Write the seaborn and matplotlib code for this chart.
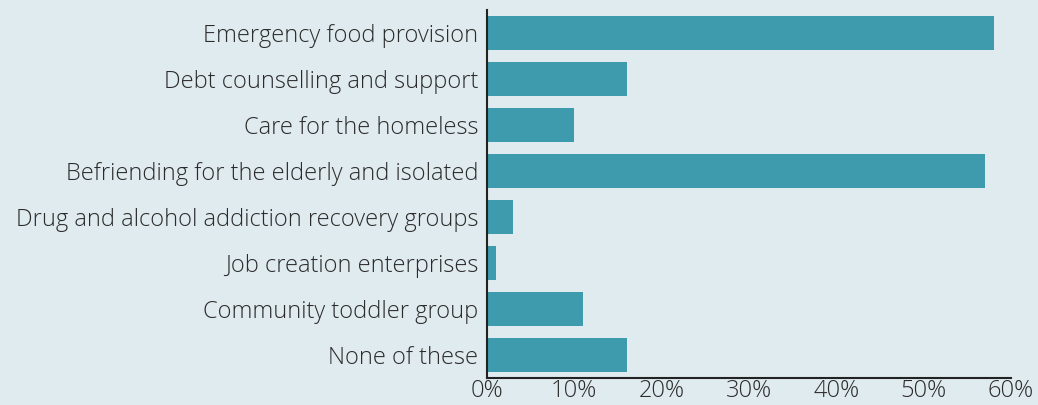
import matplotlib
matplotlib.use('Agg')
import matplotlib.pyplot as plt
import seaborn as sns
import pandas as pd
from matplotlib.ticker import PercentFormatter

# data
categories = ['Emergency food provision', 'Debt counselling and support', 'Care for the homeless',
              'Befriending for the elderly and isolated', 'Drug and alcohol addiction recovery groups',
              'Job creation enterprises', 'Community toddler group', 'None of these']
values = [58, 16, 10, 57, 3, 1, 11, 16]

BG = '#e0ebef'
BAR = '#3e9aad'
TXT = '#2b2b2b'

sns.set_style('white')
plt.rcParams['font.family'] = ['Open Sans', 'DejaVu Sans']

df = pd.DataFrame({'category': categories, 'value': values})

fig = plt.figure(figsize=(10.38, 4.05), dpi=100, facecolor=BG)
ax = fig.add_axes([0.469, 0.0667, 0.505, 0.9083])
ax.set_facecolor(BG)
sns.barplot(data=df, x='value', y='category', color=BAR, saturation=1, width=0.74,
            linewidth=0, ax=ax)

ax.set_xlim(0, 60)
ax.set_ylim(7.5, -0.5)
ax.set_xticks(range(0, 61, 10))
ax.xaxis.set_major_formatter(PercentFormatter(decimals=0))
ax.set_xlabel('')
ax.set_ylabel('')
for s in ['top', 'right']:
    ax.spines[s].set_visible(False)
for s in ['left', 'bottom']:
    ax.spines[s].set_color('#222222')
    ax.spines[s].set_linewidth(1.5)
ax.tick_params(axis='x', direction='in', length=8, width=1.5, color='#222222',
               labelsize=17, labelcolor=TXT, pad=1)
ax.tick_params(axis='y', length=0, labelsize=17, labelcolor=TXT, pad=6)
for lbl in ax.get_xticklabels() + ax.get_yticklabels():
    lbl.set_fontweight('light')

fig.savefig('out.png', dpi=100, facecolor=BG)
